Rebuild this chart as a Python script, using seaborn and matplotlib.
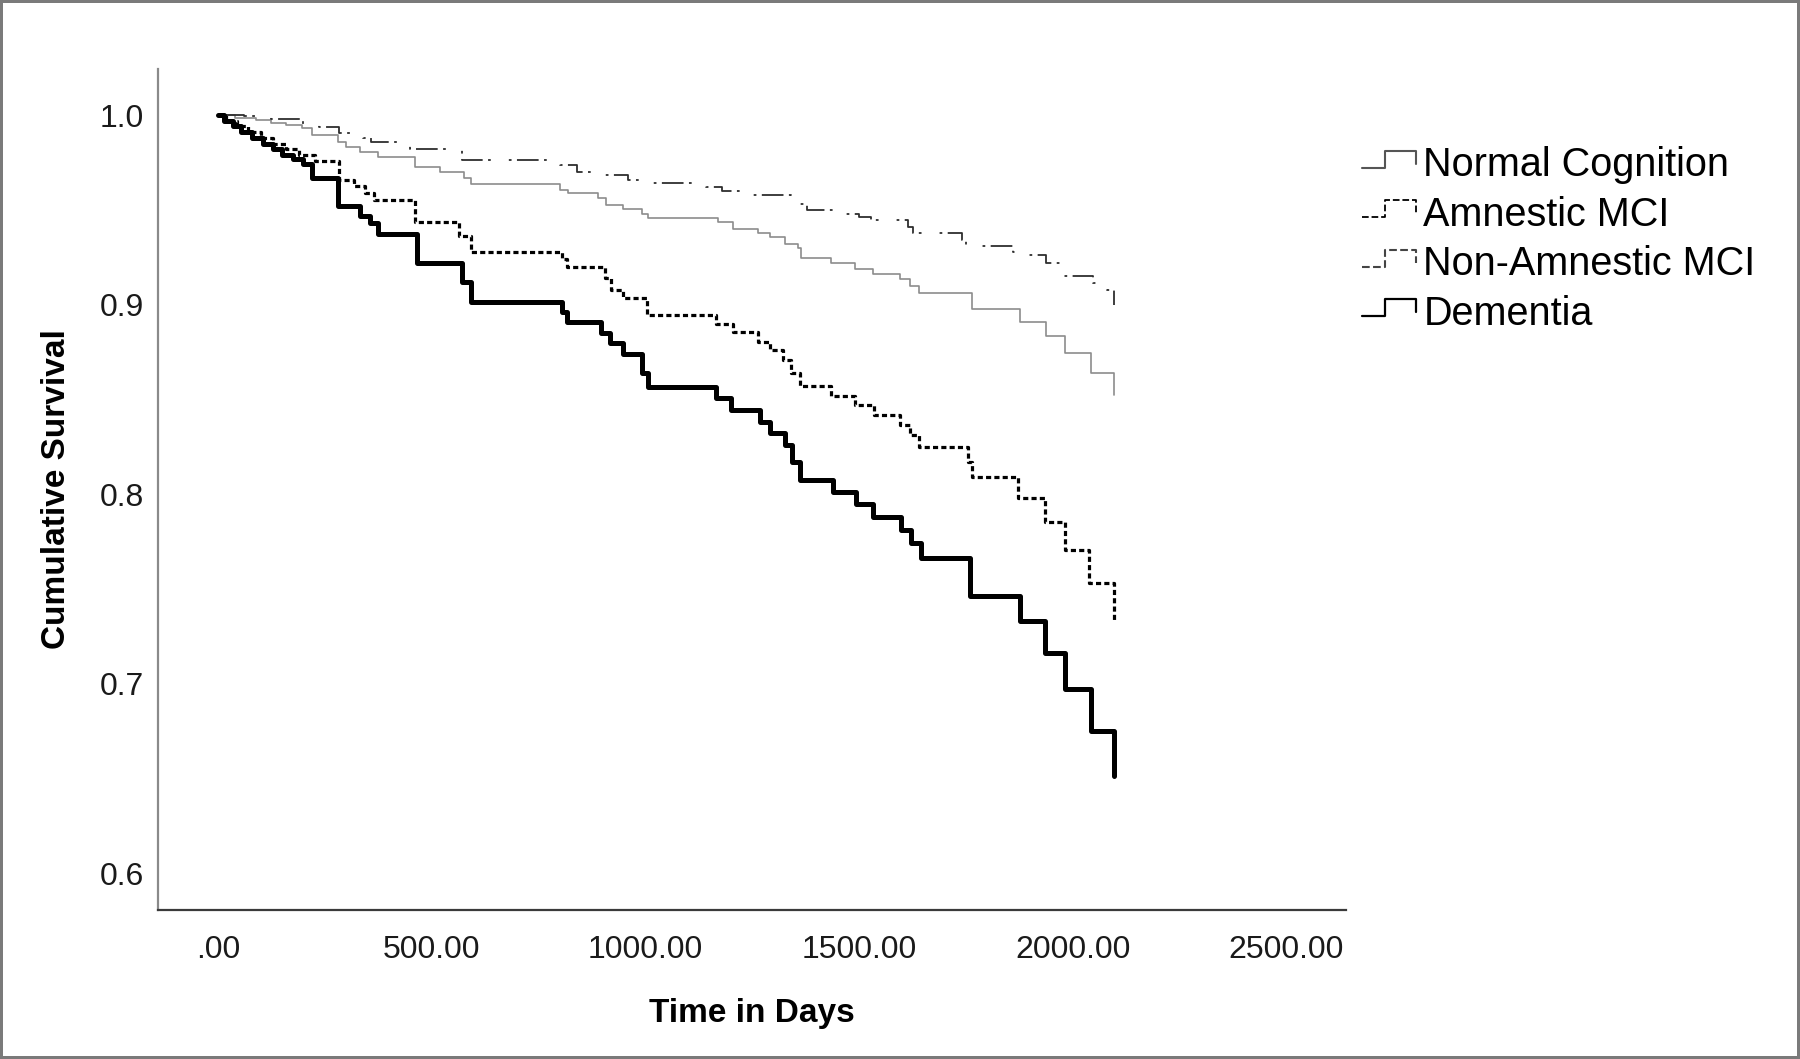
import matplotlib
matplotlib.use('Agg')
import matplotlib.pyplot as plt
from matplotlib.legend_handler import HandlerBase
from matplotlib.lines import Line2D
import seaborn as sns
import pandas as pd

# Kaplan-Meier step values (day of event, survival after event)
normal_days = [0, 40, 90, 125, 160, 196, 220, 281, 300, 332, 375, 461, 520, 575, 593, 800, 819,
               889, 909, 948, 991, 1006, 1170, 1205, 1263, 1291, 1326, 1357, 1365, 1435, 1490,
               1532, 1595, 1618, 1641, 1763, 1876, 1938, 1981, 2043, 2096]
normal_surv = [1.0, .9985, .9975, .996, .995, .993, .9894, .986, .9833, .9806, .978, .9727, .970,
               .967, .9636, .9604, .9587, .956, .9525, .9502, .9478, .9455, .9437, .940, .9379,
               .9355, .932, .9297, .9244, .922, .919, .916, .9133, .9098, .9062, .8975, .891,
               .8834, .8746, .864, .8522]

amnestic_days = [0, 20, 45, 70, 100, 130, 160, 190, 227, 283, 318, 345, 365, 461, 565, 593, 805,
                 816, 905, 920, 948, 1003, 1166, 1205, 1263, 1291, 1322, 1340, 1361, 1435, 1490,
                 1536, 1595, 1618, 1641, 1755, 1763, 1871, 1934, 1981, 2039, 2096]
amnestic_surv = [1.0, .997, .994, .991, .988, .985, .982, .979, .9757, .9657, .9625, .9587, .955,
                 .9437, .936, .928, .924, .920, .914, .9077, .9033, .8945, .890, .8857, .8804,
                 .876, .871, .864, .857, .8517, .847, .8417, .8364, .831, .825, .817, .809, .7977,
                 .7854, .7704, .7529, .7326]

nonamnestic_days = [0, 60, 125, 200, 236, 283, 340, 359, 450, 570, 800, 840, 889, 960, 1003, 1143,
                    1180, 1250, 1340, 1377, 1439, 1500, 1528, 1614, 1626, 1740, 1751, 1860, 1871,
                    1938, 1977, 2047, 2080, 2096]
nonamnestic_surv = [1.0, .9995, .998, .995, .9937, .9905, .988, .986, .9819, .9763, .9736, .970,
                    .9683, .966, .9643, .9622, .960, .9578, .953, .9499, .9478, .946, .9446, .941,
                    .9379, .934, .9309, .928, .9261, .9217, .9152, .9112, .9077, .8997]

dementia_days = [0, 15, 35, 55, 80, 105, 130, 150, 175, 200, 219, 281, 332, 356, 375, 465, 571,
                 593, 804, 816, 897, 917, 948, 991, 1006, 1166, 1201, 1268, 1291, 1326, 1344, 1361,
                 1439, 1493, 1532, 1598, 1622, 1645, 1759, 1876, 1934, 1981, 2043, 2096]
dementia_surv = [1.0, .997, .994, .991, .988, .985, .982, .979, .977, .974, .967, .952, .947, .943,
                 .937, .922, .912, .9015, .896, .891, .885, .8795, .874, .864, .8566, .8505, .8443,
                 .838, .832, .826, .817, .8074, .801, .795, .788, .781, .774, .766, .746, .733,
                 .716, .697, .675, .651]

group_names = ['Normal Cognition', 'Amnestic MCI', 'Non-Amnestic MCI', 'Dementia']
x_ticks = [0, 500, 1000, 1500, 2000, 2500]
x_tick_labels = ['.00', '500.00', '1000.00', '1500.00', '2000.00', '2500.00']
y_ticks = [0.6, 0.7, 0.8, 0.9, 1.0]
y_tick_labels = ['0.6', '0.7', '0.8', '0.9', '1.0']

series = [
    (normal_days, normal_surv, dict(color='#8c8c8c', lw=1.2, linestyle='-')),
    (amnestic_days, amnestic_surv, dict(color='black', lw=2.3, linestyle=(0, (1.6, 1.0)))),
    (nonamnestic_days, nonamnestic_surv,
     dict(color='#2e2e2e', lw=1.3, linestyle=(0, (1.5, 3, 12, 3, 1.5, 10)))),
    (dementia_days, dementia_surv, dict(color='black', lw=3.6, linestyle='-')),
]
legend_styles = [
    dict(color='#555555', lw=1.5, linestyle='-'),
    dict(color='black', lw=1.3, linestyle=(0, (2, 1.5))),
    dict(color='#444444', lw=1.5, linestyle=(0, (4, 3, 1, 3))),
    dict(color='black', lw=1.6, linestyle='-'),
]


class StepHandler(HandlerBase):
    # SPSS-like little step glyph for the legend
    def create_artists(self, legend, orig_handle, xdescent, ydescent, width, height, fontsize, trans):
        x0, y0 = -xdescent, -ydescent
        xs = [x0, x0 + 0.42 * width, x0 + 0.42 * width, x0 + 0.97 * width, x0 + 0.97 * width]
        ys = [y0 + 0.3 * height, y0 + 0.3 * height, y0 + 0.92 * height, y0 + 0.92 * height,
              y0 + 0.45 * height]
        line = Line2D(xs, ys, color=orig_handle.get_color(), linestyle=orig_handle.get_linestyle(),
                      linewidth=orig_handle.get_linewidth())
        line.set_transform(trans)
        return [line]


sns.set_style('white')
plt.rcParams['font.family'] = ['Liberation Sans', 'DejaVu Sans']

fig = plt.figure(figsize=(18, 10.59), dpi=100, linewidth=3, edgecolor='#7a7a7a')
ax = fig.add_axes([0.0878, 0.1407, 0.6602, 0.7941])

for (days, surv, style), name in zip(series, group_names):
    df = pd.DataFrame({'days': days, 'surv': surv})
    sns.lineplot(data=df, x='days', y='surv', ax=ax, drawstyle='steps-post',
                 estimator=None, sort=False, legend=False, **style)

ax.set_xlim(-140, 2640)
ax.set_ylim(0.5805, 1.0243)
ax.set_xticks(x_ticks)
ax.set_xticklabels(x_tick_labels)
ax.set_yticks(y_ticks)
ax.set_yticklabels(y_tick_labels)
ax.tick_params(axis='both', length=0, labelsize=23, labelcolor='#1a1a1a')
ax.tick_params(axis='x', pad=18)
ax.tick_params(axis='y', pad=10)

sns.despine(ax=ax)
ax.spines['left'].set_color('#8a8a8a')
ax.spines['left'].set_linewidth(1.6)
ax.spines['bottom'].set_color('#3a3a3a')
ax.spines['bottom'].set_linewidth(1.6)

ax.set_xlabel('Time in Days', fontsize=24, fontweight='bold', color='black')
ax.set_ylabel('Cumulative Survival', fontsize=24, fontweight='bold', color='black')
ax.xaxis.set_label_coords(0.5, -0.105)
ax.yaxis.set_label_coords(-0.072, 0.5)

handles = [Line2D([], [], **st) for st in legend_styles]
fig.legend(handles, group_names, loc='upper left', bbox_to_anchor=(0.7567, 0.862),
           frameon=False, fontsize=28.5, handlelength=1.4, handletextpad=0.15,
           labelspacing=0.29, borderpad=0, borderaxespad=0, labelcolor='black',
           handler_map={Line2D: StepHandler()})

fig.savefig('out.png', dpi=100)
